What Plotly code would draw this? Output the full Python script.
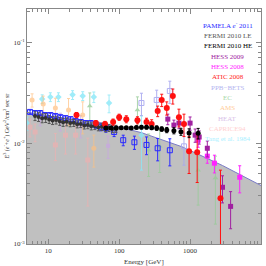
import plotly.graph_objects as go

# ---------------- data ----------------
model_E = [5, 10, 55, 206, 770, 2865, 10000]
model_F = [0.0203, 0.0186, 0.0160, 0.0127, 0.0092, 0.0060, 0.0038]

pamela_E = [5.53, 6.52, 7.69, 9.06, 10.7, 12.6, 14.8, 17.5, 20.6, 24.3, 28.7, 33.8, 39.8, 46.9, 55.3, 65.2, 84.8, 114, 164, 243, 349, 518]
pamela_F = [0.0204, 0.0199, 0.0199, 0.0190, 0.0190, 0.0186, 0.0181, 0.0177, 0.0173, 0.0166, 0.0162, 0.0158, 0.0158, 0.0151, 0.0144, 0.0141, 0.0129, 0.0107, 0.0102, 0.0096, 0.0089, 0.0085]
pamela_err = [0.04, 0.04, 0.04, 0.04, 0.04, 0.04, 0.04, 0.05, 0.05, 0.05, 0.05, 0.06, 0.06, 0.07, 0.08, 0.09, 0.10, 0.12, 0.15, 0.20, 0.25, 0.30]

fermiLE_E = [6.5, 7.3, 8.2, 9.2, 10.3, 11.5, 12.9, 14.5, 16.2, 18.2, 20.4, 22.9, 25.6, 28.7, 32.2, 36.1, 40.4, 45.3, 50.8, 57, 64, 71.7, 80.3, 90]
fermiLE_F = [0.0186, 0.0182, 0.0177, 0.0178, 0.0172, 0.0168, 0.0170, 0.0165, 0.0161, 0.0163, 0.0158, 0.0159, 0.0154, 0.0155, 0.0150, 0.0151, 0.0147, 0.0148, 0.0144, 0.0145, 0.0141, 0.0142, 0.0138, 0.0139]
fermiLE_err = [0.10, 0.10, 0.10, 0.10, 0.09, 0.09, 0.09, 0.09, 0.09, 0.09, 0.08, 0.08, 0.08, 0.08, 0.08, 0.08, 0.08, 0.08, 0.08, 0.08, 0.08, 0.08, 0.08, 0.08]

fermiHE_E = [65, 77, 91, 107, 126, 148, 175, 206, 243, 287, 338, 398, 469, 591, 743, 968, 1300]
fermiHE_F = [0.0141, 0.0141, 0.0141, 0.0142, 0.0142, 0.0141, 0.0143, 0.0144, 0.0144, 0.0142, 0.0141, 0.0138, 0.0135, 0.0133, 0.0130, 0.0126, 0.0125]
fermiHE_err = [0.03, 0.03, 0.03, 0.03, 0.03, 0.03, 0.03, 0.04, 0.04, 0.04, 0.05, 0.05, 0.06, 0.07, 0.08, 0.10, 0.12]

hess09_E = [485, 591, 696, 1000, 1178, 1344, 1749, 2865, 3728]
hess09_F = [0.0173, 0.0151, 0.0158, 0.0158, 0.0120, 0.0115, 0.0089, 0.00365, 0.00236]
hess09_err = [0.12, 0.12, 0.12, 0.15, 0.15, 0.15, 0.18, 0.30, 0.40]

hess08_E = [1300, 1749, 2203, 5012]
hess08_F = [0.0107, 0.00743, 0.00633, 0.00459]
hess08_err = [0.15, 0.15, 0.20, 0.30]

atic_E = [25, 46.9, 63.1, 82.1, 100, 126, 181, 243, 287, 349, 398, 469, 571, 696, 820, 968, 1259, 2683]
atic_F = [0.0190, 0.0158, 0.0155, 0.0162, 0.0181, 0.0173, 0.0169, 0.0162, 0.0155, 0.0208, 0.0268, 0.0223, 0.0294, 0.0181, 0.0155, 0.00833, 0.00814, 0.00284]
atic_err = [0.06, 0.06, 0.06, 0.07, 0.07, 0.08, 0.08, 0.09, 0.10, 0.12, 0.14, 0.15, 0.17, 0.20, 0.25, 0.40, 0.50, 0.90]

ppb_E = [206, 338, 518, 820]
ppb_F = [0.0250, 0.0268, 0.0329, 0.0093]
ppb_err = [0.25, 0.25, 0.25, 0.35]

ec_E = [38.5, 181, 260, 373, 1300, 2276]
ec_F = [0.0233, 0.0213, 0.0085, 0.0093, 0.0054, 0.0045]
ec_err = [0.35, 0.35, 0.45, 0.45, 0.55, 0.65]

ams_E = [5.91, 8.48, 12.6, 19.3, 30.6, 43.9]
ams_F = [0.0268, 0.0244, 0.0223, 0.0213, 0.0190, 0.0089]
ams_err = [0.15, 0.20, 0.25, 0.30, 0.35, 0.35]

heat_E = [7.7, 14.8, 28.7, 69.7]
heat_F = [0.0175, 0.0165, 0.0150, 0.0094]
heat_err = [0.15, 0.20, 0.25, 0.25]

caprice_E = [5.53, 6.52, 12.6, 17.5, 24.3, 36.1]
caprice_F = [0.0144, 0.0129, 0.0096, 0.0120, 0.0120, 0.0068]
caprice_err = [0.20, 0.20, 0.30, 0.35, 0.35, 0.65]

tang_E = [5.0, 8.2, 10.7, 13.9, 22, 30.6, 43.9, 72, 206]
tang_F = [0.0158, 0.0274, 0.0287, 0.0287, 0.0301, 0.0294, 0.0287, 0.0250, 0.0120]
tang_err = [0.15, 0.10, 0.10, 0.10, 0.10, 0.10, 0.12, 0.20, 0.55]

x_tickvals = [10, 100, 1000, 10000]
x_ticktext = ["10", "100", "1000", "10<sup>4</sup>"]
y_tickvals = [0.001, 0.01, 0.1]
y_ticktext = ["10<sup>-3</sup>", "10<sup>-2</sup>", "10<sup>-1</sup>"]

legend_names = ["PAMELA <i>e</i><sup>-</sup> 2011", "FERMI 2010 LE", "FERMI 2010 HE", "HESS 2009", "HESS 2008",
                "ATIC 2008", "PPB\u2212BETS", "EC", "AMS", "HEAT", "CAPRICE94", "Tang et al. 1984"]
legend_colors = ["#2a2aff", "#555555", "#000000", "#a020a0", "#ff22ff", "#ff1a1a",
                 "#b4b4f0", "#a8d8a8", "#ffcc99", "#d8c0e8", "#ffd0d0", "#a8f0ff"]

FONT = "Liberation Serif"

x_minor = [m * 10 ** k for k in range(0, 4) for m in range(2, 10)]
y_minor = [m * 10.0 ** k for k in range(-3, 0) for m in range(2, 10)]

fig = go.Figure()

# shaded model region
fig.add_trace(go.Scatter(x=model_E, y=model_F, mode="lines", line=dict(color="#7a7ac8", width=1),
                         fill="tozeroy", fillcolor="#c0c0c0", hoverinfo="skip", showlegend=False))


def add_series(E, F, err, color, symbol, size, open_marker=False, ecolor=None, opacity=1.0):
    up = [f * e for f, e in zip(F, err)]
    dn = [f * min(e, 0.95) for f, e in zip(F, err)]
    marker = dict(color=color, symbol=symbol, size=size)
    if open_marker:
        marker = dict(color="rgba(0,0,0,0)", symbol=symbol, size=size, line=dict(color=color, width=1))
    fig.add_trace(go.Scatter(
        x=E, y=F, mode="markers", marker=marker, opacity=opacity,
        error_y=dict(type="data", array=up, arrayminus=dn, color=ecolor or color, thickness=1, width=1.5),
        showlegend=False))


add_series(tang_E, tang_F, tang_err, "#88e8f8", "diamond", 5, opacity=0.8)
add_series(caprice_E, caprice_F, caprice_err, "#f0b0b0", "square", 5, opacity=0.7)
add_series(heat_E, heat_F, heat_err, "#c8a8e0", "square", 4, opacity=0.8)
add_series(ams_E, ams_F, ams_err, "#ffc080", "circle", 5, opacity=0.7)
add_series(ec_E, ec_F, ec_err, "#98cc98", "triangle-up", 5, opacity=0.8)
add_series(ppb_E, ppb_F, ppb_err, "#a8a8f0", "square", 5, open_marker=True, opacity=0.9)
add_series(pamela_E, pamela_F, pamela_err, "#2a2aff", "square", 5, open_marker=True)
add_series(fermiLE_E, fermiLE_F, fermiLE_err, "#333333", "circle", 4, ecolor="#555555")
add_series(hess08_E, hess08_F, hess08_err, "#ff22ff", "square", 5)
add_series(hess09_E, hess09_F, hess09_err, "#a020a0", "square", 5)
add_series(atic_E, atic_F, atic_err, "#ff1010", "circle", 6)
add_series(fermiHE_E, fermiHE_F, fermiHE_err, "#000000", "circle", 5)

axis_common = dict(type="log", showgrid=False, zeroline=False, showline=True, linecolor="#888888",
                   linewidth=1, mirror="allticks", ticks="inside", ticklen=5, tickcolor="#888888",
                   automargin=False,
                   tickfont=dict(family=FONT, size=7, color="#333333"))

fig.update_xaxes(range=[0.7, 4.0], tickvals=x_tickvals, ticktext=x_ticktext,
                 minor=dict(ticks="inside", ticklen=3, tickcolor="#888888", tickmode="array",
                            tickvals=x_minor, showgrid=False), **axis_common)
fig.update_yaxes(range=[-3, -0.67], tickvals=y_tickvals, ticktext=y_ticktext,
                 minor=dict(ticks="inside", ticklen=3, tickcolor="#888888", tickmode="array",
                            tickvals=y_minor, showgrid=False), **axis_common)

annotations = []
for i, (name, col) in enumerate(zip(legend_names, legend_colors)):
    annotations.append(dict(x=3.53, y=-0.836 - i * 0.1025, xref="x", yref="y", text=name, showarrow=False,
                            font=dict(family=FONT, size=7, color=col), xanchor="center", yanchor="middle"))
annotations.append(dict(x=0.5, y=0, xref="paper", yref="paper", yanchor="middle", text="Energy [GeV]",
                        showarrow=False, yshift=-18, font=dict(family=FONT, size=7, color="#333333")))
annotations.append(dict(x=0, y=0.5, xref="paper", yref="paper", textangle=-90, xanchor="center",
                        xshift=-20,
                        text="<i>E</i><sup>3</sup> (<i>e</i><sup>-</sup>+<i>e</i><sup>+</sup>) GeV<sup>2</sup>/cm<sup>2</sup> sec sr",
                        showarrow=False, font=dict(family=FONT, size=6, color="#333333")))

fig.update_layout(width=266, height=266, margin=dict(l=27, r=5, t=9, b=22),
                  paper_bgcolor="white", plot_bgcolor="white", showlegend=False,
                  annotations=annotations)

fig.write_html("out.html", config={"displayModeBar": False},
               post_script="document.body.style.margin='0';document.body.style.padding='0';")
